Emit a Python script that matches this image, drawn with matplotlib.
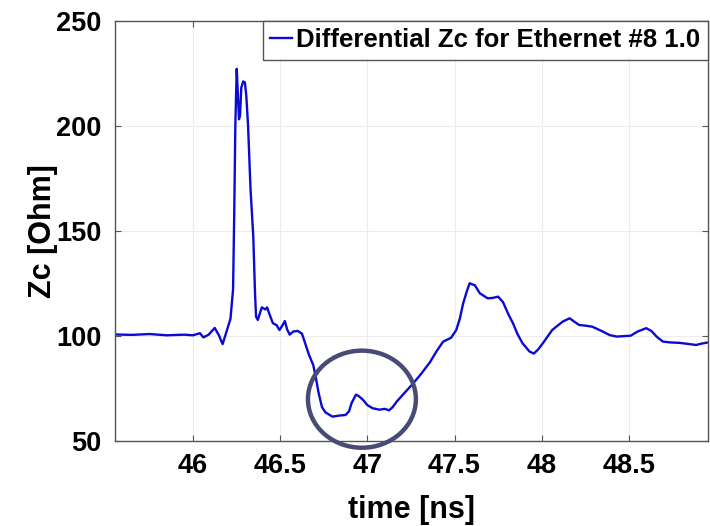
import matplotlib
matplotlib.use('Agg')
import matplotlib.pyplot as plt
from matplotlib.patches import Ellipse
import numpy as np

plt.rcParams['font.family'] = ['Liberation Sans', 'DejaVu Sans']
plt.rcParams['font.weight'] = 'bold'

# traced waveform: time [ns], Zc [Ohm]
t_ns = [45.553, 45.65, 45.75, 45.85, 45.95, 46.00, 46.04, 46.06, 46.09, 46.125,
        46.15, 46.17, 46.20, 46.215, 46.23, 46.237, 46.243, 46.251, 46.257, 46.264,
        46.27, 46.277, 46.288, 46.298, 46.306, 46.316, 46.33, 46.346, 46.356, 46.362,
        46.372, 46.385, 46.395, 46.415, 46.425, 46.44, 46.458, 46.48, 46.496, 46.51,
        46.527, 46.54, 46.555, 46.575, 46.6, 46.625, 46.645, 46.665, 46.69, 46.705,
        46.72, 46.74, 46.76, 46.80, 46.84, 46.875, 46.895, 46.91, 46.935, 46.95,
        46.975, 47.0, 47.03, 47.07, 47.10, 47.125, 47.145, 47.17, 47.21, 47.265,
        47.31, 47.36, 47.40, 47.435, 47.48, 47.51, 47.53, 47.55, 47.57, 47.587,
        47.60, 47.617, 47.645, 47.69, 47.72, 47.75, 47.778, 47.81, 47.835, 47.86,
        47.89, 47.93, 47.955, 47.98, 48.01, 48.06, 48.12, 48.16, 48.19, 48.215,
        48.25, 48.29, 48.35, 48.39, 48.43, 48.47, 48.51, 48.55, 48.60, 48.63,
        48.66, 48.695, 48.74, 48.79, 48.83, 48.885, 48.92, 48.953]
zc_ohm = [100.6, 100.4, 100.8, 100.2, 100.5, 100.2, 101.2, 99.2, 100.5, 103.7,
          100.0, 96.0, 104.0, 108.0, 122.0, 160.0, 200.0, 227.0, 216.0, 203.0,
          205.0, 218.0, 221.0, 220.5, 214.0, 200.0, 170.0, 147.0, 120.0, 109.0,
          107.5, 111.0, 113.5, 112.5, 113.5, 110.0, 106.0, 105.0, 102.7, 104.5,
          107.0, 103.0, 100.5, 102.0, 102.3, 101.0, 96.0, 91.0, 86.0, 80.0,
          73.0, 66.0, 63.5, 61.5, 62.0, 62.3, 64.0, 68.0, 72.0, 71.3,
          69.5, 67.0, 65.5, 64.8, 65.2, 64.5, 66.0, 68.8, 72.5, 77.5,
          82.0, 87.5, 93.0, 97.2, 99.0, 102.7, 108.0, 115.5, 121.0, 125.0,
          124.5, 124.0, 120.2, 117.8, 118.0, 118.6, 116.0, 110.0, 106.0, 101.0,
          96.4, 92.5, 91.5, 93.5, 96.8, 102.7, 106.7, 108.3, 106.5, 105.1,
          104.8, 104.3, 102.0, 100.3, 99.6, 99.8, 100.0, 102.0, 103.6, 102.2,
          99.5, 97.2, 96.8, 96.6, 96.2, 95.6, 96.3, 96.8]

x_ticks = [46, 46.5, 47, 47.5, 48, 48.5]
y_ticks = [50, 100, 150, 200, 250]

fig = plt.figure(figsize=(7.1, 5.26), dpi=100)
ax = fig.add_axes([0.162, 0.162, 0.835, 0.799])

ax.plot(t_ns, zc_ohm, color='#0a0ad2', lw=1.7, label='Differential Zc for Ethernet #8 1.0')

ax.set_xlim(45.553, 48.953)
ax.set_ylim(50, 250)
ax.set_xticks(x_ticks)
ax.set_xticklabels(['46', '46.5', '47', '47.5', '48', '48.5'])
ax.set_yticks(y_ticks)
ax.grid(True, color='#ececec', lw=0.8)
ax.tick_params(direction='in', top=True, right=True, length=4, width=0.8,
               color='#555555', labelsize=19.5)
ax.tick_params(axis='x', pad=9)
ax.tick_params(axis='y', pad=10)
for s in ax.spines.values():
    s.set_color('#555555')
    s.set_linewidth(1.0)

ax.set_xlabel('time [ns]', fontsize=22, fontweight='bold', labelpad=11)
ax.set_ylabel('Zc [Ohm]', fontsize=22, fontweight='bold', labelpad=-1.5)

leg = ax.legend(loc='upper right', bbox_to_anchor=(1.0, 1.0), borderaxespad=0,
                fontsize=18.5, handlelength=0.85, handletextpad=0.15,
                borderpad=0.3, fancybox=False, framealpha=1, edgecolor='#555555')
leg.get_frame().set_linewidth(1.0)

# highlight circle around the dip
circ = Ellipse((46.969, 69.8), 0.619, 46.2, fill=False, edgecolor='#484b73',
               lw=3.2, clip_on=False, zorder=5)
ax.add_patch(circ)

fig.savefig('out.png', dpi=100)
